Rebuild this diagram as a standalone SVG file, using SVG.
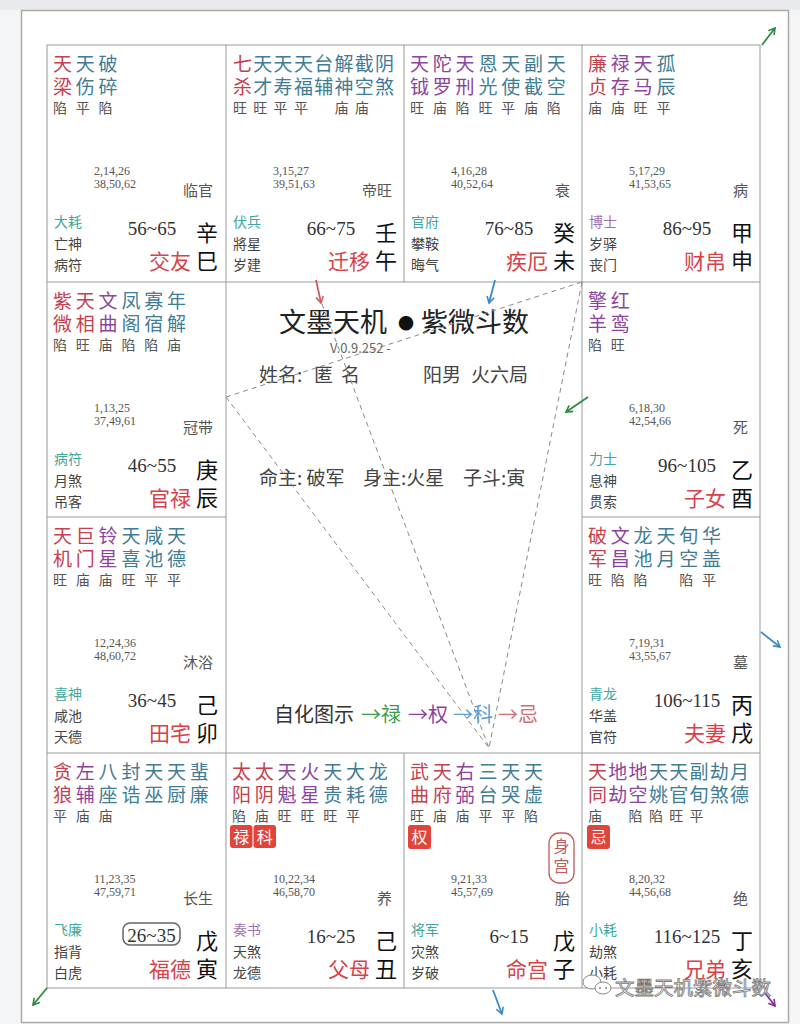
<svg xmlns="http://www.w3.org/2000/svg" width="800" height="1024" viewBox="0 0 800 1024">
<style>
text{font-family:"Noto Sans CJK SC","Noto Sans",sans-serif}
.s{font-size:19px}
.r{fill:#c4404e}.p{fill:#8d449c}.t{fill:#417c94}
.b{font-size:14px;fill:#555}
.n{font-family:"Liberation Serif",serif;font-size:12px;fill:#555}
.st{font-size:15px;fill:#555;text-anchor:end}
.g1{font-size:14px;fill:#3fa79e}.g1p{font-size:14px;fill:#a070b0}
.g2{font-size:14px;fill:#444}
.age{font-family:"Liberation Serif",serif;font-size:19px;fill:#333;text-anchor:middle}
.gz{font-size:22px;fill:#111;text-anchor:middle}
.pn{font-size:21px;fill:#d6424a;text-anchor:end}
.tag{fill:#e0443a}
.tagt{font-size:16px;fill:#fff;text-anchor:middle}
.grid{stroke:#9a9a9a;stroke-width:1;fill:none}
.dash{stroke:#8a8a8a;stroke-width:1;stroke-dasharray:5 4;fill:none}
.ar{stroke-width:1.8;fill:none}
</style>
<defs>
<marker id="mr" viewBox="0 0 10 10" refX="8" refY="5" markerWidth="9" markerHeight="9" markerUnits="userSpaceOnUse" orient="auto"><path d="M1,1 L8,5 L1,9" fill="none" stroke="#d05a66" stroke-width="1.8"/></marker>
<marker id="mb" viewBox="0 0 10 10" refX="8" refY="5" markerWidth="9" markerHeight="9" markerUnits="userSpaceOnUse" orient="auto"><path d="M1,1 L8,5 L1,9" fill="none" stroke="#3a8ac8" stroke-width="1.8"/></marker>
<marker id="mg" viewBox="0 0 10 10" refX="8" refY="5" markerWidth="9" markerHeight="9" markerUnits="userSpaceOnUse" orient="auto"><path d="M1,1 L8,5 L1,9" fill="none" stroke="#2e8a3c" stroke-width="1.8"/></marker>
<marker id="mp" viewBox="0 0 10 10" refX="8" refY="5" markerWidth="9" markerHeight="9" markerUnits="userSpaceOnUse" orient="auto"><path d="M1,1 L8,5 L1,9" fill="none" stroke="#8a2a9a" stroke-width="1.8"/></marker>
</defs>
<rect x="0" y="0" width="800" height="1024" fill="#f4f5f7"/>
<rect x="0" y="0" width="800" height="10" fill="#e8eaed"/>
<rect x="21.5" y="10.5" width="767" height="1012" fill="#fff" stroke="#aaa" stroke-width="1.5"/>
<g id="grid">
<rect class="grid" x="47" y="45" width="713" height="943"/>
<line class="grid" x1="226" y1="45" x2="226" y2="988"/>
<line class="grid" x1="582" y1="45" x2="582" y2="988"/>
<line class="grid" x1="404" y1="45" x2="404" y2="282"/>
<line class="grid" x1="404" y1="753" x2="404" y2="988"/>
<line class="grid" x1="47" y1="282" x2="760" y2="282"/>
<line class="grid" x1="47" y1="753" x2="760" y2="753"/>
<line class="grid" x1="47" y1="517" x2="226" y2="517"/>
<line class="grid" x1="582" y1="517" x2="760" y2="517"/>
</g>

<g id="p-si" transform="translate(47,45)">
<text class="s r" x="6" y="25.5">天<tspan x="6" y="48.5">梁</tspan></text>
<text class="s t" x="28.8" y="25.5">天<tspan x="28.8" y="48.5">伤</tspan></text>
<text class="s t" x="51.6" y="25.5">破<tspan x="51.6" y="48.5">碎</tspan></text>
<text class="b" x="6 28.8 51.6" y="68">陷平陷</text>
<text class="n" x="47" y="130">2,14,26</text><text class="n" x="47" y="143">38,50,62</text>
<text class="st" x="166" y="151">临官</text>
<text class="g1" x="7" y="182">大耗</text><text class="g2" x="7" y="204">亡神</text><text class="g2" x="7" y="225">病符</text>
<text class="age" x="105" y="190">56~65</text>
<text class="gz" x="160" y="196">辛</text><text class="gz" x="160" y="224">巳</text>
<text class="pn" x="144" y="223.5">交友</text>
</g>

<g id="p-wu" transform="translate(226,45)">
<text class="s r" x="7" y="25.5">七<tspan x="7" y="48.5">杀</tspan></text>
<text class="s t" x="27.3" y="25.5">天<tspan x="27.3" y="48.5">才</tspan></text>
<text class="s t" x="47.6" y="25.5">天<tspan x="47.6" y="48.5">寿</tspan></text>
<text class="s t" x="67.9" y="25.5">天<tspan x="67.9" y="48.5">福</tspan></text>
<text class="s t" x="88.2" y="25.5">台<tspan x="88.2" y="48.5">辅</tspan></text>
<text class="s t" x="108.5" y="25.5">解<tspan x="108.5" y="48.5">神</tspan></text>
<text class="s t" x="128.8" y="25.5">截<tspan x="128.8" y="48.5">空</tspan></text>
<text class="s t" x="149.1" y="25.5">阴<tspan x="149.1" y="48.5">煞</tspan></text>
<text class="b" x="7 27.3 47.6 67.9 108.5 128.8" y="68">旺旺平平庙庙</text>
<text class="n" x="47" y="130">3,15,27</text><text class="n" x="47" y="143">39,51,63</text>
<text class="st" x="166" y="151">帝旺</text>
<text class="g1" x="7" y="182">伏兵</text><text class="g2" x="7" y="204">將星</text><text class="g2" x="7" y="225">岁建</text>
<text class="age" x="105" y="190">66~75</text>
<text class="gz" x="160" y="196">壬</text><text class="gz" x="160" y="224">午</text>
<text class="pn" x="144" y="223.5">迁移</text>
</g>

<g id="p-wei" transform="translate(404,45)">
<text class="s p" x="6" y="25.5">天<tspan x="6" y="48.5">钺</tspan></text>
<text class="s p" x="28.8" y="25.5">陀<tspan x="28.8" y="48.5">罗</tspan></text>
<text class="s p" x="51.6" y="25.5">天<tspan x="51.6" y="48.5">刑</tspan></text>
<text class="s t" x="74.4" y="25.5">恩<tspan x="74.4" y="48.5">光</tspan></text>
<text class="s t" x="97.2" y="25.5">天<tspan x="97.2" y="48.5">使</tspan></text>
<text class="s t" x="120" y="25.5">副<tspan x="120" y="48.5">截</tspan></text>
<text class="s t" x="142.8" y="25.5">天<tspan x="142.8" y="48.5">空</tspan></text>
<text class="b" x="6 28.8 51.6 74.4 97.2 120 142.8" y="68">旺庙陷旺平庙陷</text>
<text class="n" x="47" y="130">4,16,28</text><text class="n" x="47" y="143">40,52,64</text>
<text class="st" x="166" y="151">衰</text>
<text class="g1" x="7" y="182">官府</text><text class="g2" x="7" y="204">攀鞍</text><text class="g2" x="7" y="225">晦气</text>
<text class="age" x="105" y="190">76~85</text>
<text class="gz" x="160" y="196">癸</text><text class="gz" x="160" y="224">未</text>
<text class="pn" x="144" y="223.5">疾厄</text>
</g>

<g id="p-shen" transform="translate(582,45)">
<text class="s r" x="6" y="25.5">廉<tspan x="6" y="48.5">贞</tspan></text>
<text class="s p" x="28.8" y="25.5">禄<tspan x="28.8" y="48.5">存</tspan></text>
<text class="s p" x="51.6" y="25.5">天<tspan x="51.6" y="48.5">马</tspan></text>
<text class="s t" x="74.4" y="25.5">孤<tspan x="74.4" y="48.5">辰</tspan></text>
<text class="b" x="6 28.8 51.6 74.4" y="68">庙庙旺平</text>
<text class="n" x="47" y="130">5,17,29</text><text class="n" x="47" y="143">41,53,65</text>
<text class="st" x="166" y="151">病</text>
<text class="g1p" x="7" y="182">博士</text><text class="g2" x="7" y="204">岁驿</text><text class="g2" x="7" y="225">丧门</text>
<text class="age" x="105" y="190">86~95</text>
<text class="gz" x="160" y="196">甲</text><text class="gz" x="160" y="224">申</text>
<text class="pn" x="144" y="223.5">财帛</text>
</g>

<g id="p-chen" transform="translate(47,282)">
<text class="s r" x="6" y="25.5">紫<tspan x="6" y="48.5">微</tspan></text>
<text class="s r" x="28.8" y="25.5">天<tspan x="28.8" y="48.5">相</tspan></text>
<text class="s p" x="51.6" y="25.5">文<tspan x="51.6" y="48.5">曲</tspan></text>
<text class="s t" x="74.4" y="25.5">凤<tspan x="74.4" y="48.5">阁</tspan></text>
<text class="s t" x="97.2" y="25.5">寡<tspan x="97.2" y="48.5">宿</tspan></text>
<text class="s t" x="120" y="25.5">年<tspan x="120" y="48.5">解</tspan></text>
<text class="b" x="6 28.8 51.6 74.4 97.2 120" y="68">陷旺庙陷陷庙</text>
<text class="n" x="47" y="130">1,13,25</text><text class="n" x="47" y="143">37,49,61</text>
<text class="st" x="166" y="151">冠带</text>
<text class="g1" x="7" y="182">病符</text><text class="g2" x="7" y="204">月煞</text><text class="g2" x="7" y="225">吊客</text>
<text class="age" x="105" y="190">46~55</text>
<text class="gz" x="160" y="196">庚</text><text class="gz" x="160" y="224">辰</text>
<text class="pn" x="144" y="223.5">官禄</text>
</g>

<g id="p-you" transform="translate(582,282)">
<text class="s p" x="6" y="25.5">擎<tspan x="6" y="48.5">羊</tspan></text>
<text class="s p" x="28.8" y="25.5">红<tspan x="28.8" y="48.5">鸾</tspan></text>
<text class="b" x="6 28.8" y="68">陷旺</text>
<text class="n" x="47" y="130">6,18,30</text><text class="n" x="47" y="143">42,54,66</text>
<text class="st" x="166" y="151">死</text>
<text class="g1" x="7" y="182">力士</text><text class="g2" x="7" y="204">息神</text><text class="g2" x="7" y="225">贯索</text>
<text class="age" x="105" y="190">96~105</text>
<text class="gz" x="160" y="196">乙</text><text class="gz" x="160" y="224">酉</text>
<text class="pn" x="144" y="223.5">子女</text>
</g>

<g id="p-mao" transform="translate(47,517)">
<text class="s r" x="6" y="25.5">天<tspan x="6" y="48.5">机</tspan></text>
<text class="s r" x="28.8" y="25.5">巨<tspan x="28.8" y="48.5">门</tspan></text>
<text class="s p" x="51.6" y="25.5">铃<tspan x="51.6" y="48.5">星</tspan></text>
<text class="s t" x="74.4" y="25.5">天<tspan x="74.4" y="48.5">喜</tspan></text>
<text class="s t" x="97.2" y="25.5">咸<tspan x="97.2" y="48.5">池</tspan></text>
<text class="s t" x="120" y="25.5">天<tspan x="120" y="48.5">德</tspan></text>
<text class="b" x="6 28.8 51.6 74.4 97.2 120" y="68">旺庙庙旺平平</text>
<text class="n" x="47" y="130">12,24,36</text><text class="n" x="47" y="143">48,60,72</text>
<text class="st" x="166" y="151">沐浴</text>
<text class="g1" x="7" y="182">喜神</text><text class="g2" x="7" y="204">咸池</text><text class="g2" x="7" y="225">天德</text>
<text class="age" x="105" y="190">36~45</text>
<text class="gz" x="160" y="196">己</text><text class="gz" x="160" y="224">卯</text>
<text class="pn" x="144" y="223.5">田宅</text>
</g>

<g id="p-xu" transform="translate(582,517)">
<text class="s r" x="6" y="25.5">破<tspan x="6" y="48.5">军</tspan></text>
<text class="s p" x="28.8" y="25.5">文<tspan x="28.8" y="48.5">昌</tspan></text>
<text class="s t" x="51.6" y="25.5">龙<tspan x="51.6" y="48.5">池</tspan></text>
<text class="s t" x="74.4" y="25.5">天<tspan x="74.4" y="48.5">月</tspan></text>
<text class="s t" x="97.2" y="25.5">旬<tspan x="97.2" y="48.5">空</tspan></text>
<text class="s t" x="120" y="25.5">华<tspan x="120" y="48.5">盖</tspan></text>
<text class="b" x="6 28.8 51.6 97.2 120" y="68">旺陷陷陷平</text>
<text class="n" x="47" y="130">7,19,31</text><text class="n" x="47" y="143">43,55,67</text>
<text class="st" x="166" y="151">墓</text>
<text class="g1" x="7" y="182">青龙</text><text class="g2" x="7" y="204">华盖</text><text class="g2" x="7" y="225">官符</text>
<text class="age" x="105" y="190">106~115</text>
<text class="gz" x="160" y="196">丙</text><text class="gz" x="160" y="224">戌</text>
<text class="pn" x="144" y="223.5">夫妻</text>
</g>

<g id="p-yin" transform="translate(47,753)">
<text class="s r" x="6" y="25.5">贪<tspan x="6" y="48.5">狼</tspan></text>
<text class="s p" x="28.8" y="25.5">左<tspan x="28.8" y="48.5">辅</tspan></text>
<text class="s t" x="51.6" y="25.5">八<tspan x="51.6" y="48.5">座</tspan></text>
<text class="s t" x="74.4" y="25.5">封<tspan x="74.4" y="48.5">诰</tspan></text>
<text class="s t" x="97.2" y="25.5">天<tspan x="97.2" y="48.5">巫</tspan></text>
<text class="s t" x="120" y="25.5">天<tspan x="120" y="48.5">厨</tspan></text>
<text class="s t" x="142.8" y="25.5">蜚<tspan x="142.8" y="48.5">廉</tspan></text>
<text class="b" x="6 28.8 51.6" y="68">平庙庙</text>
<text class="n" x="47" y="130">11,23,35</text><text class="n" x="47" y="143">47,59,71</text>
<text class="st" x="166" y="151">长生</text>
<text class="g1" x="7" y="182">飞廉</text><text class="g2" x="7" y="204">指背</text><text class="g2" x="7" y="225">白虎</text>
<rect x="76" y="170" width="57" height="22" rx="7" fill="none" stroke="#666" stroke-width="1.5"/>
<text class="age" x="104.5" y="189">26~35</text>
<text class="gz" x="160" y="196">戊</text><text class="gz" x="160" y="224">寅</text>
<text class="pn" x="144" y="223.5">福德</text>
</g>

<g id="p-chou" transform="translate(226,753)">
<text class="s r" x="6" y="25.5">太<tspan x="6" y="48.5">阳</tspan></text>
<text class="s r" x="28.8" y="25.5">太<tspan x="28.8" y="48.5">阴</tspan></text>
<text class="s p" x="51.6" y="25.5">天<tspan x="51.6" y="48.5">魁</tspan></text>
<text class="s p" x="74.4" y="25.5">火<tspan x="74.4" y="48.5">星</tspan></text>
<text class="s t" x="97.2" y="25.5">天<tspan x="97.2" y="48.5">贵</tspan></text>
<text class="s t" x="120" y="25.5">大<tspan x="120" y="48.5">耗</tspan></text>
<text class="s t" x="142.8" y="25.5">龙<tspan x="142.8" y="48.5">德</tspan></text>
<text class="b" x="6 28.8 51.6 74.4 97.2 120" y="68">陷庙旺旺旺平</text>
<rect class="tag" x="4" y="72" width="22.5" height="23" rx="3"/><text class="tagt" x="15.2" y="89.5">禄</text>
<rect class="tag" x="27.5" y="72" width="22.5" height="23" rx="3"/><text class="tagt" x="38.7" y="89.5">科</text>
<text class="n" x="47" y="130">10,22,34</text><text class="n" x="47" y="143">46,58,70</text>
<text class="st" x="166" y="151">养</text>
<text class="g1p" x="7" y="182">奏书</text><text class="g2" x="7" y="204">天煞</text><text class="g2" x="7" y="225">龙德</text>
<text class="age" x="105" y="190">16~25</text>
<text class="gz" x="160" y="196">己</text><text class="gz" x="160" y="224">丑</text>
<text class="pn" x="144" y="223.5">父母</text>
</g>

<g id="p-zi" transform="translate(404,753)">
<text class="s r" x="6" y="25.5">武<tspan x="6" y="48.5">曲</tspan></text>
<text class="s r" x="28.8" y="25.5">天<tspan x="28.8" y="48.5">府</tspan></text>
<text class="s p" x="51.6" y="25.5">右<tspan x="51.6" y="48.5">弼</tspan></text>
<text class="s t" x="74.4" y="25.5">三<tspan x="74.4" y="48.5">台</tspan></text>
<text class="s t" x="97.2" y="25.5">天<tspan x="97.2" y="48.5">哭</tspan></text>
<text class="s t" x="120" y="25.5">天<tspan x="120" y="48.5">虚</tspan></text>
<text class="b" x="6 28.8 51.6 74.4 97.2 120" y="68">旺庙庙平平陷</text>
<rect class="tag" x="4" y="72" width="23" height="24" rx="3"/><text class="tagt" x="15.5" y="90">权</text>
<rect x="145" y="80" width="25" height="50" rx="10" fill="none" stroke="#c25a5a" stroke-width="1.3"/>
<text x="157.5" y="99" font-size="16" fill="#b86060" text-anchor="middle">身</text>
<text x="157.5" y="119" font-size="16" fill="#b86060" text-anchor="middle">宫</text>
<text class="n" x="47" y="130">9,21,33</text><text class="n" x="47" y="143">45,57,69</text>
<text class="st" x="166" y="151">胎</text>
<text class="g1" x="7" y="182">将军</text><text class="g2" x="7" y="204">灾煞</text><text class="g2" x="7" y="225">岁破</text>
<text class="age" x="105" y="190">6~15</text>
<text class="gz" x="160" y="196">戊</text><text class="gz" x="160" y="224">子</text>
<text class="pn" x="144" y="223.5">命宫</text>
</g>

<g id="p-hai" transform="translate(582,753)">
<text class="s r" x="6" y="25.5">天<tspan x="6" y="48.5">同</tspan></text>
<text class="s p" x="26.3" y="25.5">地<tspan x="26.3" y="48.5">劫</tspan></text>
<text class="s p" x="46.6" y="25.5">地<tspan x="46.6" y="48.5">空</tspan></text>
<text class="s t" x="66.9" y="25.5">天<tspan x="66.9" y="48.5">姚</tspan></text>
<text class="s t" x="87.2" y="25.5">天<tspan x="87.2" y="48.5">官</tspan></text>
<text class="s t" x="107.5" y="25.5">副<tspan x="107.5" y="48.5">旬</tspan></text>
<text class="s t" x="127.8" y="25.5">劫<tspan x="127.8" y="48.5">煞</tspan></text>
<text class="s t" x="148.1" y="25.5">月<tspan x="148.1" y="48.5">德</tspan></text>
<text class="b" x="6 46.6 66.9 87.2 107.5" y="68">庙陷陷旺平</text>
<rect class="tag" x="5" y="72" width="23" height="24" rx="3"/><text class="tagt" x="16.5" y="90">忌</text>
<text class="n" x="47" y="130">8,20,32</text><text class="n" x="47" y="143">44,56,68</text>
<text class="st" x="166" y="151">绝</text>
<text class="g1" x="7" y="182">小耗</text><text class="g2" x="7" y="204">劫煞</text><text class="g2" x="7" y="225">小耗</text>
<text class="age" x="105" y="190">116~125</text>
<text class="gz" x="160" y="196">丁</text><text class="gz" x="160" y="224">亥</text>
<text class="pn" x="144" y="223.5">兄弟</text>
</g>

<g id="center">
<text x="279" y="332" font-size="27" fill="#222">文墨天机</text>
<text x="406" y="329" font-size="16" fill="#111" text-anchor="middle">●</text>
<text x="421" y="332" font-size="27" fill="#222">紫微斗数</text>
<text x="330" y="353" font-family="Liberation Serif, serif" font-size="13" fill="#666">V.0.9.252 -</text>
<text x="259" y="382" font-size="19" fill="#444">姓名:</text>
<text x="314" y="382" font-size="19" fill="#444">匿</text>
<text x="341" y="382" font-size="19" fill="#444">名</text>
<text x="423" y="382" font-size="19" fill="#444">阳男</text>
<text x="471" y="382" font-size="19" fill="#444">火六局</text>
<text x="259" y="485" font-size="19" fill="#444">命主: 破军</text>
<text x="363" y="485" font-size="19" fill="#444">身主:火星</text>
<text x="463" y="485" font-size="19" fill="#444">子斗:寅</text>
<text x="274" y="722" font-size="20" fill="#333">自化图示</text>
<text x="361" y="722" font-size="20" fill="#3c9a4a">→禄</text>
<text x="408" y="722" font-size="20" fill="#8e3fa0">→权</text>
<text x="453" y="722" font-size="20" fill="#5aa0d0">→科</text>
<text x="498" y="722" font-size="20" fill="#d07070">→忌</text>
</g>

<g id="connectors">
<line class="dash" x1="226" y1="397" x2="582" y2="282"/>
<line class="dash" x1="226" y1="397" x2="489" y2="748"/>
<line class="dash" x1="322" y1="304" x2="489" y2="748"/>
<line class="dash" x1="582" y1="282" x2="489" y2="748"/>
<line class="ar" stroke="#d05a66" x1="316" y1="280" x2="321" y2="303" marker-end="url(#mr)"/>
<line class="ar" stroke="#3a8ac8" x1="495" y1="280" x2="489" y2="303" marker-end="url(#mb)"/>
<line class="ar" stroke="#2e8a3c" x1="588" y1="397" x2="566" y2="412" marker-end="url(#mg)"/>
<line class="ar" stroke="#2e8a3c" x1="762" y1="45" x2="775" y2="28" marker-end="url(#mg)"/>
<line class="ar" stroke="#3a8ac8" x1="761" y1="632" x2="780" y2="647" marker-end="url(#mb)"/>
<line class="ar" stroke="#2e8a3c" x1="47" y1="988" x2="33" y2="1005" marker-end="url(#mg)"/>
<line class="ar" stroke="#3a8ac8" x1="493" y1="990" x2="502" y2="1014" marker-end="url(#mb)"/>
<line class="ar" stroke="#8a2a9a" x1="765" y1="993" x2="775" y2="1006" marker-end="url(#mp)"/>
</g>

<g id="watermark">
<ellipse cx="592" cy="982" rx="9" ry="7" fill="#fff" stroke="#888" stroke-width="1"/>
<ellipse cx="603" cy="988" rx="8" ry="6" fill="#fff" stroke="#888" stroke-width="1"/>
<circle cx="600" cy="988" r="1" fill="#888"/><circle cx="606" cy="988" r="1" fill="#888"/>
<text x="615" y="995" font-size="19.5" fill="#fafafa" stroke="#7a7a7a" stroke-width="0.8">文墨天机紫微斗数</text>
</g>
</svg>
